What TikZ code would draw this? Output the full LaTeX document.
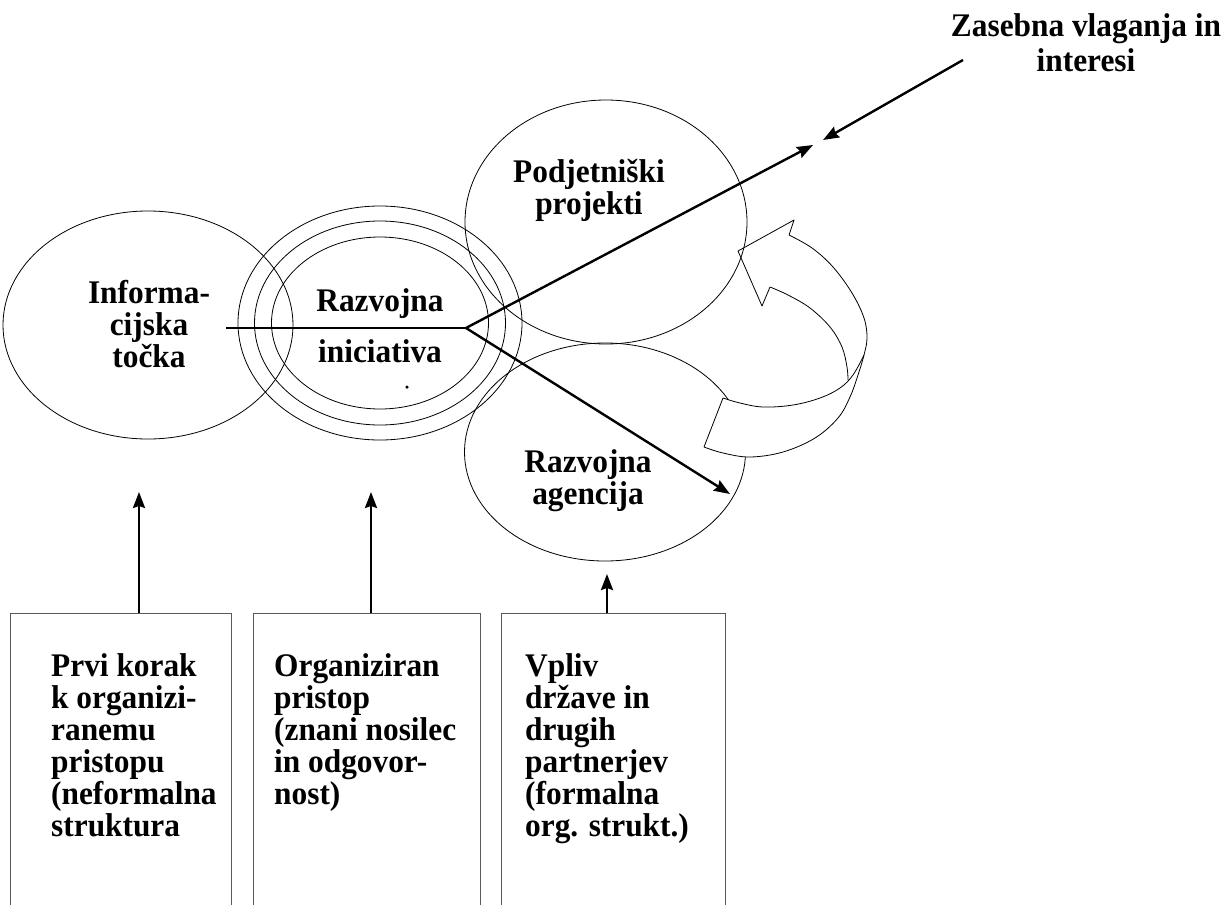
\documentclass[tikz,border=0pt]{standalone}
\usepackage{fontspec}
\setmainfont{Liberation Serif}[FakeStretch=0.95]
\usetikzlibrary{shapes.geometric,arrows.meta}

\begin{document}
\begin{tikzpicture}[x=1pt,y=-1pt,
  ring/.style={draw, ellipse, inner sep=0pt, line width=0.8pt},
  lbl/.style={font=\fontsize{33}{32}\selectfont\bfseries, inner sep=0pt, align=center},
  boxtext/.style={font=\fontsize{33}{32}\selectfont\bfseries, inner sep=0pt, align=left, anchor=north west},
  arr/.style={line width=2.4pt, -{Stealth[length=16pt,width=12pt,inset=2pt]}},
  frame/.style={draw=black!65, line width=0.8pt},
  slot/.style={inner sep=0pt, anchor=north west, minimum height=292pt},
  band/.style={line width=0.8pt, line join=round}
]
\useasboundingbox (0,0) rectangle (1224,905);

% ellipses
\node[ring, minimum width=290pt, minimum height=228pt] (info) at (148,325) {};
\node[ring, minimum width=284pt, minimum height=234pt] (ringA) at (380,323) {};
\node[ring, minimum width=251pt, minimum height=204pt] (ringB) at (380,323) {};
\node[ring, minimum width=217pt, minimum height=172pt] (ringC) at (380,323) {};
\node[ring, minimum width=282pt, minimum height=244pt] (podj) at (606,222) {};
\node[ring, minimum width=281pt, minimum height=218pt] (agen) at (605,452) {};

% circular ribbon arrow: front band covers the ellipse behind it
\fill[white] plot[smooth, tension=0.6] coordinates {(723,398) (740,403) (763,407) (793,405) (820,398) (840,388) (853,375) (864,355)}
  -- plot[smooth, tension=0.6] coordinates {(864,355) (858,375) (850,397) (838,418) (815,438) (783,452) (750,457) (723,453) (704,447)} -- cycle;
\draw[band] plot[smooth, tension=0.6] coordinates {(789,235) (812,248) (833,267) (852,293) (864,318) (867,338) (864,355) (858,375) (850,397) (838,418) (815,438) (783,452) (750,457) (723,453) (704,447)};
\draw[band] (704,447) -- (723,398);
\draw[band] plot[smooth, tension=0.6] coordinates {(723,398) (740,403) (763,407) (793,405) (820,398) (840,388) (853,375) (864,355)};
\draw[band] plot[smooth, tension=0.6] coordinates {(770,287) (788,295) (810,308) (830,327) (842,347) (847,367) (848,380)};
\draw[band] (789,235) -- (794,220) -- (738,251) -- (762,306) -- (770,287);

% labels inside the ellipses
\node[lbl] (infoT) at (149,324) {Informa-\\cijska\\točka};
\node[lbl] (razT) at (380,326) {Razvojna\\[19pt]iniciativa};
\node[circle, fill, inner sep=0pt, minimum size=3.5pt] (dot) at (407,387) {};
\node[lbl] (podjT) at (589,190) {Podjetniški\\projekti};
\node[lbl] (agenT) at (588,481) {Razvojna\\agencija};
\node[lbl] (zas) at (1086,43) {Zasebna vlaganja in\\[3pt]interesi};

% connectors from the hub
\coordinate (lineStart) at (226,328);
\coordinate (hub) at (466,328);
\coordinate (tipP) at (813,145);
\coordinate (tipA) at (730,494);
\coordinate (zStart) at (963,60);
\coordinate (tipZ) at (823,140);
\draw[line width=2.4pt] (lineStart) -- (hub);
\draw[arr] (hub) -- (tipP);
\draw[arr] (hub) -- (tipA);
\draw[arr] (zStart) -- (tipZ);

% boxes at the bottom, open below
\node[slot, minimum width=221pt] (box1) at (10,613) {};
\node[slot, minimum width=227pt] (box2) at (253,613) {};
\node[slot, minimum width=224pt] (box3) at (501,613) {};
\foreach \b in {box1,box2,box3}
  \draw[frame] (\b.south west) -- (\b.north west) -- (\b.north east) -- (\b.south east);

\node[boxtext] (box1T) at (51,653) {Prvi korak\\k organizi-\\ranemu\\pristopu\\(neformalna\\struktura};
\node[boxtext] (box2T) at (274,653) {Organiziran\\pristop\\(znani nosilec\\in odgovor-\\nost)};
\node[boxtext] (box3T) at (525,653) {Vpliv\\države in\\drugih\\partnerjev\\(formalna\\org. strukt.)};

% arrows from the boxes up to the ellipses
\coordinate (up1) at (139,492);
\coordinate (up2) at (371,492);
\coordinate (up3) at (607,574);
\draw[arr] (up1 |- box1.north) -- (up1);
\draw[arr] (up2 |- box2.north) -- (up2);
\draw[arr] (up3 |- box3.north) -- (up3);
\end{tikzpicture}
\end{document}
